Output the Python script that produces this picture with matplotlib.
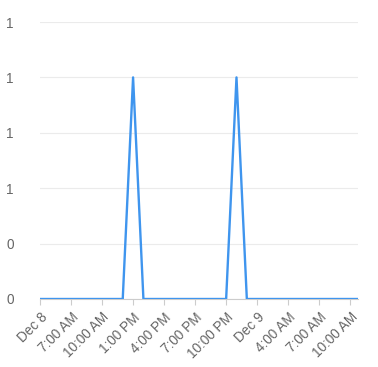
import matplotlib
matplotlib.use("Agg")
import matplotlib.pyplot as plt

# hourly series starting at Dec 8 tick (hours offset)
hours = list(range(0, 32))
values = [0, 0, 0, 0, 0, 0, 0, 0, 0, 0.8, 0, 0, 0, 0, 0, 0, 0, 0, 0, 0.8,
          0, 0, 0, 0, 0, 0, 0, 0, 0, 0, 0, 0]
tick_hours = [0, 3, 6, 9, 12, 15, 18, 21, 24, 27, 30]
tick_labels = ["Dec 8", "7:00 AM", "10:00 AM", "1:00 PM", "4:00 PM", "7:00 PM",
               "10:00 PM", "Dec 9", "4:00 AM", "7:00 AM", "10:00 AM"]
y_ticks = [0, 0.2, 0.4, 0.6, 0.8, 1.0]
y_labels = ["0", "0", "1", "1", "1", "1"]

plt.rcParams['font.family'] = ['Liberation Sans', 'DejaVu Sans']
W, H = 378, 367
fig = plt.figure(figsize=(W / 100, H / 100), dpi=100)
left, right, top, bottom = 40, 358, 22, 299
ax = fig.add_axes([left / W, 1 - bottom / H, (right - left) / W, (bottom - top) / H])

ax.plot(hours, values, color='#3f95ee', lw=1.7, clip_on=True, zorder=3)
ax.set_xlim(0, 30.75)
ax.set_ylim(0, 1.0)

ax.set_yticks(y_ticks)
ax.set_yticklabels(y_labels)
ax.set_xticks(tick_hours)
ax.set_xticklabels(tick_labels, rotation=45, ha='right', rotation_mode='anchor')

ax.grid(axis='y', color='#ebebeb', lw=0.8)
for s in ['top', 'right', 'left']:
    ax.spines[s].set_visible(False)
ax.spines['bottom'].set_color('#cccccc')
ax.spines['bottom'].set_linewidth(0.8)
ax.tick_params(axis='y', length=0, pad=19, labelsize=9.8, labelcolor='#666666')
ax.tick_params(axis='x', length=4, width=0.8, color='#cccccc', pad=4,
               labelsize=9.8, labelcolor='#666666')
ax.set_axisbelow(True)

fig.savefig("out.png", dpi=100)
